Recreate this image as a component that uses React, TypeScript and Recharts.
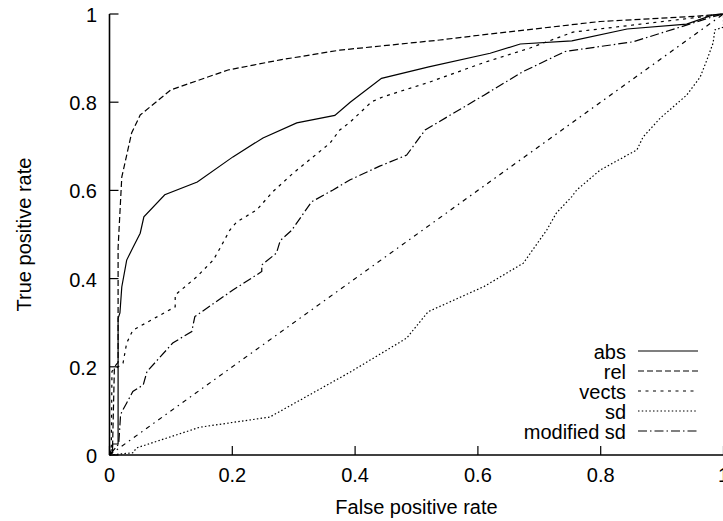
import { LineChart, Line, XAxis, YAxis, Legend } from "recharts";

type Pt = [number, number];

// axis ticks shared by both rates
const rateTicks = [0, 0.2, 0.4, 0.6, 0.8, 1];

// ROC curves as [false positive rate, true positive rate]
const absRoc: Pt[] = [
  [0, 0], [0.005, 0.005], [0.005, 0.025], [0.014, 0.025], [0.014, 0.31],
  [0.017, 0.322], [0.02, 0.381], [0.028, 0.442], [0.038, 0.47], [0.05, 0.503],
  [0.056, 0.54], [0.09, 0.59], [0.143, 0.619], [0.201, 0.676], [0.25, 0.719],
  [0.305, 0.753], [0.367, 0.77], [0.392, 0.8], [0.443, 0.854], [0.52, 0.88],
  [0.62, 0.911], [0.669, 0.932], [0.753, 0.939], [0.843, 0.966], [0.94, 0.977],
  [0.983, 0.998], [1, 1],
];

const relRoc: Pt[] = [
  [0, 0], [0.005, 0.02], [0.008, 0.2], [0.014, 0.21], [0.014, 0.47],
  [0.02, 0.63], [0.036, 0.73], [0.05, 0.771], [0.1, 0.828], [0.193, 0.873],
  [0.278, 0.896], [0.375, 0.918], [0.538, 0.941], [0.603, 0.952], [0.799, 0.983],
  [0.957, 0.995], [1, 1],
];

const vectsRoc: Pt[] = [
  [0, 0], [0.003, 0.02], [0.004, 0.19], [0.014, 0.2], [0.022, 0.208],
  [0.028, 0.254], [0.038, 0.283], [0.107, 0.336], [0.107, 0.363], [0.142, 0.404],
  [0.169, 0.442], [0.18, 0.469], [0.196, 0.51], [0.207, 0.528], [0.24, 0.556],
  [0.266, 0.597], [0.299, 0.639], [0.359, 0.707], [0.375, 0.737], [0.392, 0.755],
  [0.427, 0.801], [0.445, 0.812], [0.52, 0.845], [0.61, 0.89], [0.685, 0.923],
  [0.755, 0.959], [0.95, 0.991], [1, 1],
];

const sdRoc: Pt[] = [
  [0, 0], [0.038, 0.005], [0.044, 0.016], [0.147, 0.063], [0.261, 0.086],
  [0.392, 0.188], [0.484, 0.265], [0.519, 0.325], [0.61, 0.382], [0.674, 0.435],
  [0.712, 0.51], [0.728, 0.549], [0.753, 0.586], [0.761, 0.601], [0.799, 0.646],
  [0.859, 0.692], [0.869, 0.721], [0.897, 0.764], [0.94, 0.816], [0.962, 0.857],
  [0.973, 0.896], [0.983, 0.934], [0.986, 0.964], [1, 0.97], [1, 1],
];

const modSdRoc: Pt[] = [
  [0, 0], [0.015, 0.025], [0.018, 0.09], [0.02, 0.098], [0.028, 0.118],
  [0.038, 0.144], [0.055, 0.159], [0.061, 0.189], [0.103, 0.254], [0.134, 0.28],
  [0.139, 0.314], [0.201, 0.374], [0.248, 0.416], [0.248, 0.431], [0.272, 0.458],
  [0.278, 0.486], [0.297, 0.51], [0.329, 0.574], [0.364, 0.601], [0.392, 0.624],
  [0.44, 0.655], [0.484, 0.68], [0.514, 0.737], [0.61, 0.816], [0.673, 0.869],
  [0.742, 0.915], [0.853, 0.937], [0.924, 0.968], [0.983, 0.994], [1, 1],
];

// random-guess reference
const chanceRoc: Pt[] = [[0, 0], [1, 1]];

const series = [
  { name: "abs", points: absRoc, dash: undefined as string | undefined },
  { name: "rel", points: relRoc, dash: "6 3" },
  { name: "vects", points: vectsRoc, dash: "3 4.5" },
  { name: "sd", points: sdRoc, dash: "1.5 2.25" },
  { name: "modified sd", points: modSdRoc, dash: "9 3 1.5 3" },
];

const toRows = (pts: Pt[]) => pts.map(([fpr, tpr]) => ({ fpr, tpr }));

const FONT = '"Liberation Sans", Arial, Helvetica, sans-serif';
const TICK = 9;
const INK = "#000";

function BottomTick({ x, y, payload }: any) {
  return (
    <g>
      <line x1={x} y1={y} x2={x} y2={y - TICK} stroke={INK} strokeWidth={1.2} />
      <text x={x} y={y + 13} dy="0.71em" textAnchor="middle" fontSize={20} fontFamily={FONT} fill={INK}>
        {String(payload.value)}
      </text>
    </g>
  );
}

function LeftTick({ x, y, payload }: any) {
  return (
    <g>
      <line x1={x} y1={y} x2={x + TICK} y2={y} stroke={INK} strokeWidth={1.2} />
      <text x={x - 12.5} y={y} dy="0.4em" textAnchor="end" fontSize={20} fontFamily={FONT} fill={INK}>
        {String(payload.value)}
      </text>
    </g>
  );
}

function TopTick({ x, y }: any) {
  return <line x1={x} y1={y} x2={x} y2={y + TICK} stroke={INK} strokeWidth={1.2} />;
}

function RightTick({ x, y }: any) {
  return <line x1={x} y1={y} x2={x - TICK} y2={y} stroke={INK} strokeWidth={1.2} />;
}

function KeyBox({ payload }: any) {
  const items = (payload ?? [])
    .filter((e: any) => series.some((s) => s.name === e.value))
    .sort(
      (a: any, b: any) =>
        series.findIndex((s) => s.name === a.value) - series.findIndex((s) => s.name === b.value)
    );
  return (
    <svg width={240} height={106} style={{ display: "block" }}>
      {items.map((entry: any, i: number) => {
        const s = series.find((v) => v.name === entry.value);
        const y = 11 + i * 20;
        return (
          <g key={entry.value}>
            <text x={146} y={y + 8} textAnchor="end" fontSize={20} fontFamily={FONT} fill={INK}>
              {entry.value}
            </text>
            <line x1={158} x2={218} y1={y} y2={y} stroke={INK} strokeWidth={1.2} strokeDasharray={s?.dash} />
          </g>
        );
      })}
    </svg>
  );
}

export default function App() {
  const axisLine = { stroke: INK, strokeWidth: 1.6 };
  return (
    <div
      style={{
        position: "fixed",
        left: 0,
        top: 0,
        width: 723,
        height: 521,
        overflow: "hidden",
        background: "#fff",
      }}
    >
      <LineChart width={740} height={521} margin={{ top: 14, right: 16.5, bottom: 0, left: 0 }}>
        <XAxis
          type="number"
          dataKey="fpr"
          domain={[0, 1]}
          ticks={rateTicks}
          interval={0}
          height={66}
          axisLine={axisLine}
          tickLine={false}
          tickSize={0}
          tickMargin={0}
          tick={<BottomTick />}
          label={{
            value: "False positive rate",
            position: "insideBottom",
            offset: 7.5,
            fontSize: 20,
            fontFamily: FONT,
            fill: INK,
          }}
        />
        <XAxis
          xAxisId="top"
          orientation="top"
          type="number"
          dataKey="fpr"
          domain={[0, 1]}
          ticks={rateTicks}
          interval={0}
          height={0}
          axisLine={axisLine}
          tickLine={false}
          tickSize={0}
          tickMargin={0}
          tick={<TopTick />}
        />
        <YAxis
          type="number"
          dataKey="tpr"
          domain={[0, 1]}
          ticks={rateTicks}
          interval={0}
          width={109.5}
          axisLine={axisLine}
          tickLine={false}
          tickSize={0}
          tickMargin={0}
          tick={<LeftTick />}
          label={{
            value: "True positive rate",
            angle: -90,
            position: "insideLeft",
            offset: 24,
            fontSize: 20,
            fontFamily: FONT,
            fill: INK,
            style: { textAnchor: "middle" },
          }}
        />
        <YAxis
          yAxisId="right"
          orientation="right"
          type="number"
          dataKey="tpr"
          domain={[0, 1]}
          ticks={rateTicks}
          interval={0}
          width={0}
          axisLine={axisLine}
          tickLine={false}
          tickSize={0}
          tickMargin={0}
          tick={<RightTick />}
        />
        <Legend
          layout="horizontal"
          verticalAlign="middle"
          align="center"
          content={<KeyBox />}
          wrapperStyle={{ position: "absolute", left: 480, top: 340, width: 240, height: 106 }}
        />
        {series.map((s) => (
          <Line
            key={s.name}
            name={s.name}
            data={toRows(s.points)}
            dataKey="tpr"
            type="linear"
            stroke={INK}
            strokeWidth={1.2}
            strokeDasharray={s.dash}
            dot={false}
            activeDot={false}
            isAnimationActive={false}
          />
        ))}
        <Line
          name="chance"
          xAxisId="top"
          yAxisId="right"
          data={toRows(chanceRoc)}
          dataKey="tpr"
          type="linear"
          stroke={INK}
          strokeWidth={1.2}
          strokeDasharray="4.5 4.5 1.5 4.5"
          dot={false}
          activeDot={false}
          legendType="none"
          isAnimationActive={false}
        />
      </LineChart>
    </div>
  );
}
